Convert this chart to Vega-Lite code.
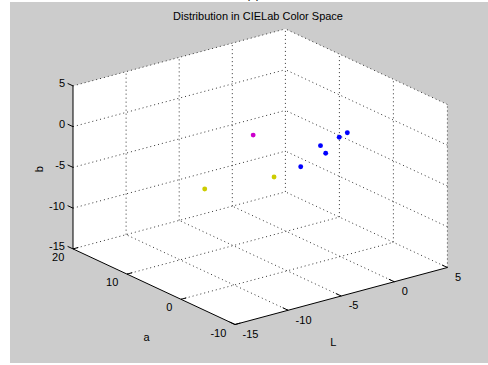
{
  "$schema": "https://vega.github.io/schema/vega-lite/v6.json",
  "width": 478,
  "height": 361,
  "padding": {"left": 10, "top": 2, "right": 0, "bottom": 2},
  "autosize": {"type": "none"},
  "background": "white",
  "config": {"view": {"fill": "#cccccc", "stroke": null}},
  "datasets": {
    "box": [
      {"o": 1, "L": -15, "a": 20, "b": 5},
      {"o": 2, "L": 5, "a": 20, "b": 5},
      {"o": 3, "L": 5, "a": -10, "b": 5},
      {"o": 4, "L": 5, "a": -10, "b": -15},
      {"o": 5, "L": -15, "a": -10, "b": -15},
      {"o": 6, "L": -15, "a": 20, "b": -15}
    ],
    "grid": [
      {"L1": -15, "a1": 0, "b1": -15, "L2": 5, "a2": 0, "b2": -15},
      {"L1": -15, "a1": 10, "b1": -15, "L2": 5, "a2": 10, "b2": -15},
      {"L1": -15, "a1": 20, "b1": -15, "L2": 5, "a2": 20, "b2": -15},
      {"L1": -10, "a1": -10, "b1": -15, "L2": -10, "a2": 20, "b2": -15},
      {"L1": -5, "a1": -10, "b1": -15, "L2": -5, "a2": 20, "b2": -15},
      {"L1": 0, "a1": -10, "b1": -15, "L2": 0, "a2": 20, "b2": -15},
      {"L1": 5, "a1": -10, "b1": -15, "L2": 5, "a2": 20, "b2": -15},
      {"L1": -10, "a1": 20, "b1": -15, "L2": -10, "a2": 20, "b2": 5},
      {"L1": -5, "a1": 20, "b1": -15, "L2": -5, "a2": 20, "b2": 5},
      {"L1": 0, "a1": 20, "b1": -15, "L2": 0, "a2": 20, "b2": 5},
      {"L1": 5, "a1": 20, "b1": -15, "L2": 5, "a2": 20, "b2": 5},
      {"L1": -15, "a1": 20, "b1": -10, "L2": 5, "a2": 20, "b2": -10},
      {"L1": -15, "a1": 20, "b1": -5, "L2": 5, "a2": 20, "b2": -5},
      {"L1": -15, "a1": 20, "b1": 0, "L2": 5, "a2": 20, "b2": 0},
      {"L1": -15, "a1": 20, "b1": 5, "L2": 5, "a2": 20, "b2": 5},
      {"L1": 5, "a1": -10, "b1": -15, "L2": 5, "a2": -10, "b2": 5},
      {"L1": 5, "a1": 0, "b1": -15, "L2": 5, "a2": 0, "b2": 5},
      {"L1": 5, "a1": 10, "b1": -15, "L2": 5, "a2": 10, "b2": 5},
      {"L1": 5, "a1": -10, "b1": -10, "L2": 5, "a2": 20, "b2": -10},
      {"L1": 5, "a1": -10, "b1": -5, "L2": 5, "a2": 20, "b2": -5},
      {"L1": 5, "a1": -10, "b1": 0, "L2": 5, "a2": 20, "b2": 0},
      {"L1": 5, "a1": -10, "b1": 5, "L2": 5, "a2": 20, "b2": 5}
    ],
    "axes": [
      {"L1": -15, "a1": 20, "b1": -15, "L2": -15, "a2": 20, "b2": 5},
      {"L1": -15, "a1": 20, "b1": -15, "L2": -15, "a2": -10, "b2": -15},
      {"L1": -15, "a1": -10, "b1": -15, "L2": 5, "a2": -10, "b2": -15},
      {"L1": -15, "a1": 20, "b1": 5, "L2": -15, "a2": 21, "b2": 5},
      {"L1": -15, "a1": 20, "b1": 0, "L2": -15, "a2": 21, "b2": 0},
      {"L1": -15, "a1": 20, "b1": -5, "L2": -15, "a2": 21, "b2": -5},
      {"L1": -15, "a1": 20, "b1": -10, "L2": -15, "a2": 21, "b2": -10},
      {"L1": -15, "a1": 20, "b1": -15, "L2": -15, "a2": 21, "b2": -15},
      {"L1": -15, "a1": 20, "b1": -15, "L2": -14.5, "a2": 20, "b2": -15},
      {"L1": -15, "a1": 10, "b1": -15, "L2": -14.5, "a2": 10, "b2": -15},
      {"L1": -15, "a1": 0, "b1": -15, "L2": -14.5, "a2": 0, "b2": -15},
      {"L1": -15, "a1": -10, "b1": -15, "L2": -14.5, "a2": -10, "b2": -15},
      {"L1": -15, "a1": -10, "b1": -15, "L2": -15, "a2": -9, "b2": -15},
      {"L1": -10, "a1": -10, "b1": -15, "L2": -10, "a2": -9, "b2": -15},
      {"L1": -5, "a1": -10, "b1": -15, "L2": -5, "a2": -9, "b2": -15},
      {"L1": 0, "a1": -10, "b1": -15, "L2": 0, "a2": -9, "b2": -15},
      {"L1": 5, "a1": -10, "b1": -15, "L2": 5, "a2": -9, "b2": -15}
    ],
    "pts": [
      {"L": -5, "a": 6.3, "b": -0.3, "g": "m"},
      {"L": 0, "a": -1.3, "b": 0.6, "g": "b"},
      {"L": 0, "a": 0.2, "b": -0.43, "g": "b"},
      {"L": -1, "a": 1.7, "b": -1.57, "g": "b"},
      {"L": -1, "a": 0.74, "b": -2.21, "g": "b"},
      {"L": -2, "a": 3.4, "b": -4.33, "g": "b"},
      {"L": -7, "a": 11.34, "b": -7.77, "g": "y"},
      {"L": -4, "a": 4.4, "b": -5.2, "g": "y"}
    ],
    "bTicks": [
      {"t": "5", "L": -15, "a": 20, "b": 5},
      {"t": "0", "L": -15, "a": 20, "b": 0},
      {"t": "-5", "L": -15, "a": 20, "b": -5},
      {"t": "-10", "L": -15, "a": 20, "b": -10},
      {"t": "-15", "L": -15, "a": 20, "b": -15}
    ],
    "aTicks": [
      {"t": "20", "L": -15, "a": 20, "b": -15},
      {"t": "10", "L": -15, "a": 10, "b": -15},
      {"t": "0", "L": -15, "a": 0, "b": -15},
      {"t": "-10", "L": -15, "a": -10, "b": -15}
    ],
    "LTicks": [
      {"t": "-15", "L": -15, "a": -10, "b": -15},
      {"t": "-10", "L": -10, "a": -10, "b": -15},
      {"t": "-5", "L": -5, "a": -10, "b": -15},
      {"t": "0", "L": 0, "a": -10, "b": -15},
      {"t": "5", "L": 5, "a": -10, "b": -15}
    ],
    "titles": [
      {"t": "a", "L": -22.05, "a": -7.5, "b": -15},
      {"t": "L", "L": -11.46, "a": -21.23, "b": -15},
      {"t": "Distribution in CIELab Color Space", "L": 2.42, "a": 20, "b": 7.4}
    ],
    "caption": [
      {"t": "(c)", "L": 1.95, "a": 20, "b": 9.45}
    ],
    "zTitle": [
      {"t": "b", "L": -15, "a": 26.17, "b": -7.14}
    ]
  },
  "layer": [
    {
      "data": {"name": "box"},
      "transform": [
        {"calculate": "235 + 10.62*(datum.L+15) - 5.4*(datum.a+10)", "as": "px"},
        {"calculate": "324.5 - 2.85*(datum.L+15) - 2.52*(datum.a+10) - 8.15*(datum.b+15)", "as": "py"}
      ],
      "mark": {"type": "line", "fill": "white", "stroke": null, "fillOpacity": 1},
      "encoding": {
        "x": {"field": "px", "type": "quantitative", "scale": {"domain": [10, 488], "zero": false, "nice": false}, "axis": null},
        "y": {"field": "py", "type": "quantitative", "scale": {"domain": [363, 2], "zero": false, "nice": false}, "axis": null},
        "order": {"field": "o", "type": "quantitative"}
      }
    },
    {
      "data": {"name": "grid"},
      "transform": [
        {"calculate": "235 + 10.62*(datum.L1+15) - 5.4*(datum.a1+10)", "as": "x1"},
        {"calculate": "324.5 - 2.85*(datum.L1+15) - 2.52*(datum.a1+10) - 8.15*(datum.b1+15)", "as": "y1"},
        {"calculate": "235 + 10.62*(datum.L2+15) - 5.4*(datum.a2+10)", "as": "x2"},
        {"calculate": "324.5 - 2.85*(datum.L2+15) - 2.52*(datum.a2+10) - 8.15*(datum.b2+15)", "as": "y2"}
      ],
      "mark": {"type": "rule", "stroke": "#333333", "strokeWidth": 1, "strokeDash": [1, 3]},
      "encoding": {
        "x": {"field": "x1", "type": "quantitative"},
        "y": {"field": "y1", "type": "quantitative"},
        "x2": {"field": "x2"},
        "y2": {"field": "y2"}
      }
    },
    {
      "data": {"name": "axes"},
      "transform": [
        {"calculate": "235 + 10.62*(datum.L1+15) - 5.4*(datum.a1+10)", "as": "x1"},
        {"calculate": "324.5 - 2.85*(datum.L1+15) - 2.52*(datum.a1+10) - 8.15*(datum.b1+15)", "as": "y1"},
        {"calculate": "235 + 10.62*(datum.L2+15) - 5.4*(datum.a2+10)", "as": "x2"},
        {"calculate": "324.5 - 2.85*(datum.L2+15) - 2.52*(datum.a2+10) - 8.15*(datum.b2+15)", "as": "y2"}
      ],
      "mark": {"type": "rule", "stroke": "black", "strokeWidth": 1},
      "encoding": {
        "x": {"field": "x1", "type": "quantitative"},
        "y": {"field": "y1", "type": "quantitative"},
        "x2": {"field": "x2"},
        "y2": {"field": "y2"}
      }
    },
    {
      "data": {"name": "pts"},
      "transform": [
        {"calculate": "235 + 10.62*(datum.L+15) - 5.4*(datum.a+10)", "as": "px"},
        {"calculate": "324.5 - 2.85*(datum.L+15) - 2.52*(datum.a+10) - 8.15*(datum.b+15)", "as": "py"}
      ],
      "mark": {"type": "point", "filled": true, "shape": "circle", "size": 24, "opacity": 1},
      "encoding": {
        "x": {"field": "px", "type": "quantitative"},
        "y": {"field": "py", "type": "quantitative"},
        "color": {"field": "g", "type": "nominal", "scale": {"domain": ["m", "b", "y"], "range": ["#cc00cc", "#0000ff", "#cccc00"]}, "legend": null}
      }
    },
    {
      "data": {"name": "bTicks"},
      "transform": [
        {"calculate": "235 + 10.62*(datum.L+15) - 5.4*(datum.a+10)", "as": "px"},
        {"calculate": "324.5 - 2.85*(datum.L+15) - 2.52*(datum.a+10) - 8.15*(datum.b+15)", "as": "py"}
      ],
      "mark": {"type": "text", "font": "Liberation Sans", "fontSize": 11, "color": "black", "align": "right", "baseline": "middle", "dx": -8, "dy": -1.5},
      "encoding": {
        "x": {"field": "px", "type": "quantitative"},
        "y": {"field": "py", "type": "quantitative"},
        "text": {"field": "t"}
      }
    },
    {
      "data": {"name": "aTicks"},
      "transform": [
        {"calculate": "235 + 10.62*(datum.L+15) - 5.4*(datum.a+10)", "as": "px"},
        {"calculate": "324.5 - 2.85*(datum.L+15) - 2.52*(datum.a+10) - 8.15*(datum.b+15)", "as": "py"}
      ],
      "mark": {"type": "text", "font": "Liberation Sans", "fontSize": 11, "color": "black", "align": "right", "baseline": "middle", "dx": -8.7, "dy": 9},
      "encoding": {
        "x": {"field": "px", "type": "quantitative"},
        "y": {"field": "py", "type": "quantitative"},
        "text": {"field": "t"}
      }
    },
    {
      "data": {"name": "LTicks"},
      "transform": [
        {"calculate": "235 + 10.62*(datum.L+15) - 5.4*(datum.a+10)", "as": "px"},
        {"calculate": "324.5 - 2.85*(datum.L+15) - 2.52*(datum.a+10) - 8.15*(datum.b+15)", "as": "py"}
      ],
      "mark": {"type": "text", "font": "Liberation Sans", "fontSize": 11, "color": "black", "align": "left", "baseline": "middle", "dx": 7.5, "dy": 10.3},
      "encoding": {
        "x": {"field": "px", "type": "quantitative"},
        "y": {"field": "py", "type": "quantitative"},
        "text": {"field": "t"}
      }
    },
    {
      "data": {"name": "titles"},
      "transform": [
        {"calculate": "235 + 10.62*(datum.L+15) - 5.4*(datum.a+10)", "as": "px"},
        {"calculate": "324.5 - 2.85*(datum.L+15) - 2.52*(datum.a+10) - 8.15*(datum.b+15)", "as": "py"}
      ],
      "mark": {"type": "text", "font": "Liberation Sans", "fontSize": 11, "color": "black", "align": "center", "baseline": "middle"},
      "encoding": {
        "x": {"field": "px", "type": "quantitative"},
        "y": {"field": "py", "type": "quantitative"},
        "text": {"field": "t"}
      }
    },
    {
      "data": {"name": "caption"},
      "transform": [
        {"calculate": "235 + 10.62*(datum.L+15) - 5.4*(datum.a+10)", "as": "px"},
        {"calculate": "324.5 - 2.85*(datum.L+15) - 2.52*(datum.a+10) - 8.15*(datum.b+15)", "as": "py"}
      ],
      "mark": {"type": "text", "font": "Liberation Sans", "fontSize": 12, "color": "black", "align": "center", "baseline": "bottom"},
      "encoding": {
        "x": {"field": "px", "type": "quantitative"},
        "y": {"field": "py", "type": "quantitative"},
        "text": {"field": "t"}
      }
    },
    {
      "data": {"name": "zTitle"},
      "transform": [
        {"calculate": "235 + 10.62*(datum.L+15) - 5.4*(datum.a+10)", "as": "px"},
        {"calculate": "324.5 - 2.85*(datum.L+15) - 2.52*(datum.a+10) - 8.15*(datum.b+15)", "as": "py"}
      ],
      "mark": {"type": "text", "font": "Liberation Sans", "fontSize": 11, "color": "black", "align": "center", "baseline": "middle", "angle": 270},
      "encoding": {
        "x": {"field": "px", "type": "quantitative"},
        "y": {"field": "py", "type": "quantitative"},
        "text": {"field": "t"}
      }
    }
  ]
}
